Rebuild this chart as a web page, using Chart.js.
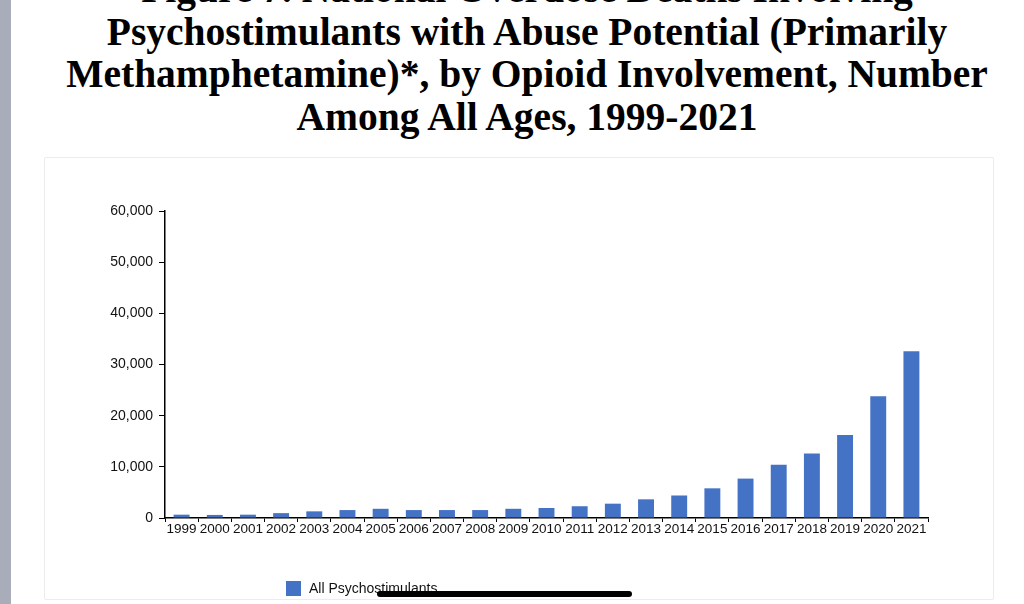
<!DOCTYPE html>
<html>
<head>
<meta charset="utf-8">
<script src="https://cdn.jsdelivr.net/npm/chart.js@4"></script>
<style>
    html, body { margin: 0; padding: 0; background: #fff; }
    body { width: 1024px; height: 604px; position: relative; overflow: hidden; }
    .side-strip { position: absolute; left: 0; top: 0; width: 11px; height: 604px; background: #a9adb9; }
    .title { position: absolute; left: 27px; width: 1000px; text-align: center;
             font-family: 'Liberation Serif', 'Times New Roman', serif; font-weight: bold;
             font-size: 39.5px; line-height: 42.5px; color: #000; top: -32px; white-space: nowrap; }
    .card { position: absolute; left: 44px; top: 157px; width: 948px; height: 441px;
            border: 1px solid #ececec; border-radius: 2px; }
    .chart-box { position: absolute; left: 44px; top: 158px; width: 949px; height: 440px; }
    #legend { position: absolute; left: 286px; top: 580px; display: flex; align-items: center;
              font-family: 'Liberation Sans', Arial, sans-serif; font-size: 14px; color: #111; }
    #legend .swatch { width: 15px; height: 15px; margin-right: 8px; }
    .home-bar { position: absolute; left: 377px; top: 591px; width: 255px; height: 6px;
                background: #000; border-radius: 3px; }
</style>
</head>
<body>
<div class="side-strip"></div>
<div class="title">
    <div>Figure 7. National Overdose Deaths Involving</div>
    <div>Psychostimulants with Abuse Potential (Primarily</div>
    <div>Methamphetamine)*, by Opioid Involvement, Number</div>
    <div>Among All Ages, 1999-2021</div>
</div>
<div class="card"></div>
<div class="chart-box"><canvas id="chart"></canvas></div>
<div id="legend"></div>
<div class="home-bar"></div>

<script>
// ===== data =====
const YEARS = ['1999', '2000', '2001', '2002', '2003', '2004', '2005', '2006', '2007', '2008', '2009', '2010',
    '2011', '2012', '2013', '2014', '2015', '2016', '2017', '2018', '2019', '2020', '2021'];
const PSYCHOSTIMULANTS = [650, 600, 650, 950, 1300, 1550, 1800, 1550, 1550, 1550, 1800, 1950,
    2300, 2800, 3650, 4400, 5800, 7700, 10400, 12600, 16200, 23800, 32600];
const Y_TICKS = [0, 10000, 20000, 30000, 40000, 50000, 60000];
const SERIES_LABEL = 'All Psychostimulants';
const BAR_COLOR = '#4472c4';

const AXIS_FONT = { family: "'Liberation Sans', Arial, sans-serif", size: 14 };

const chart = new Chart(document.getElementById('chart'), {
    type: 'bar',
    data: {
        labels: YEARS,
        datasets: [{
            label: SERIES_LABEL,
            data: PSYCHOSTIMULANTS,
            backgroundColor: BAR_COLOR,
            categoryPercentage: 0.8,
            barPercentage: 0.6,
        }]
    },
    options: {
        responsive: true,
        maintainAspectRatio: false,
        animation: false,
        layout: { padding: { left: 0, right: 65, top: 53, bottom: 0 } },
        plugins: { legend: { display: false }, tooltip: { enabled: false } },
        scales: {
            x: {
                offset: true,
                afterFit: s => { s.height = 80; },
                grid: { offset: true, drawOnChartArea: false, tickLength: 4, color: '#000' },
                border: { color: '#000', width: 1.5 },
                ticks: { color: '#111', font: { ...AXIS_FONT, size: 13.5 }, padding: -1,
                         maxRotation: 0, minRotation: 0, autoSkip: false },
            },
            y: {
                min: 0,
                max: 60000,
                afterFit: s => { s.width = 121; },
                afterBuildTicks: s => { s.ticks = Y_TICKS.map(v => ({ value: v })); },
                grid: { drawOnChartArea: false, tickLength: 6, color: '#000' },
                border: { color: '#000', width: 1.5 },
                ticks: { color: '#111', font: AXIS_FONT, padding: 6,
                         callback: v => v.toLocaleString('en-US') },
            }
        }
    }
});

// legend built from the dataset
const legendEl = document.getElementById('legend');
legendEl.innerHTML = chart.data.datasets.map(d => `
    <span class="swatch" style="background:${d.backgroundColor}"></span><span>${d.label}</span>`).join('');
</script>
</body>
</html>
